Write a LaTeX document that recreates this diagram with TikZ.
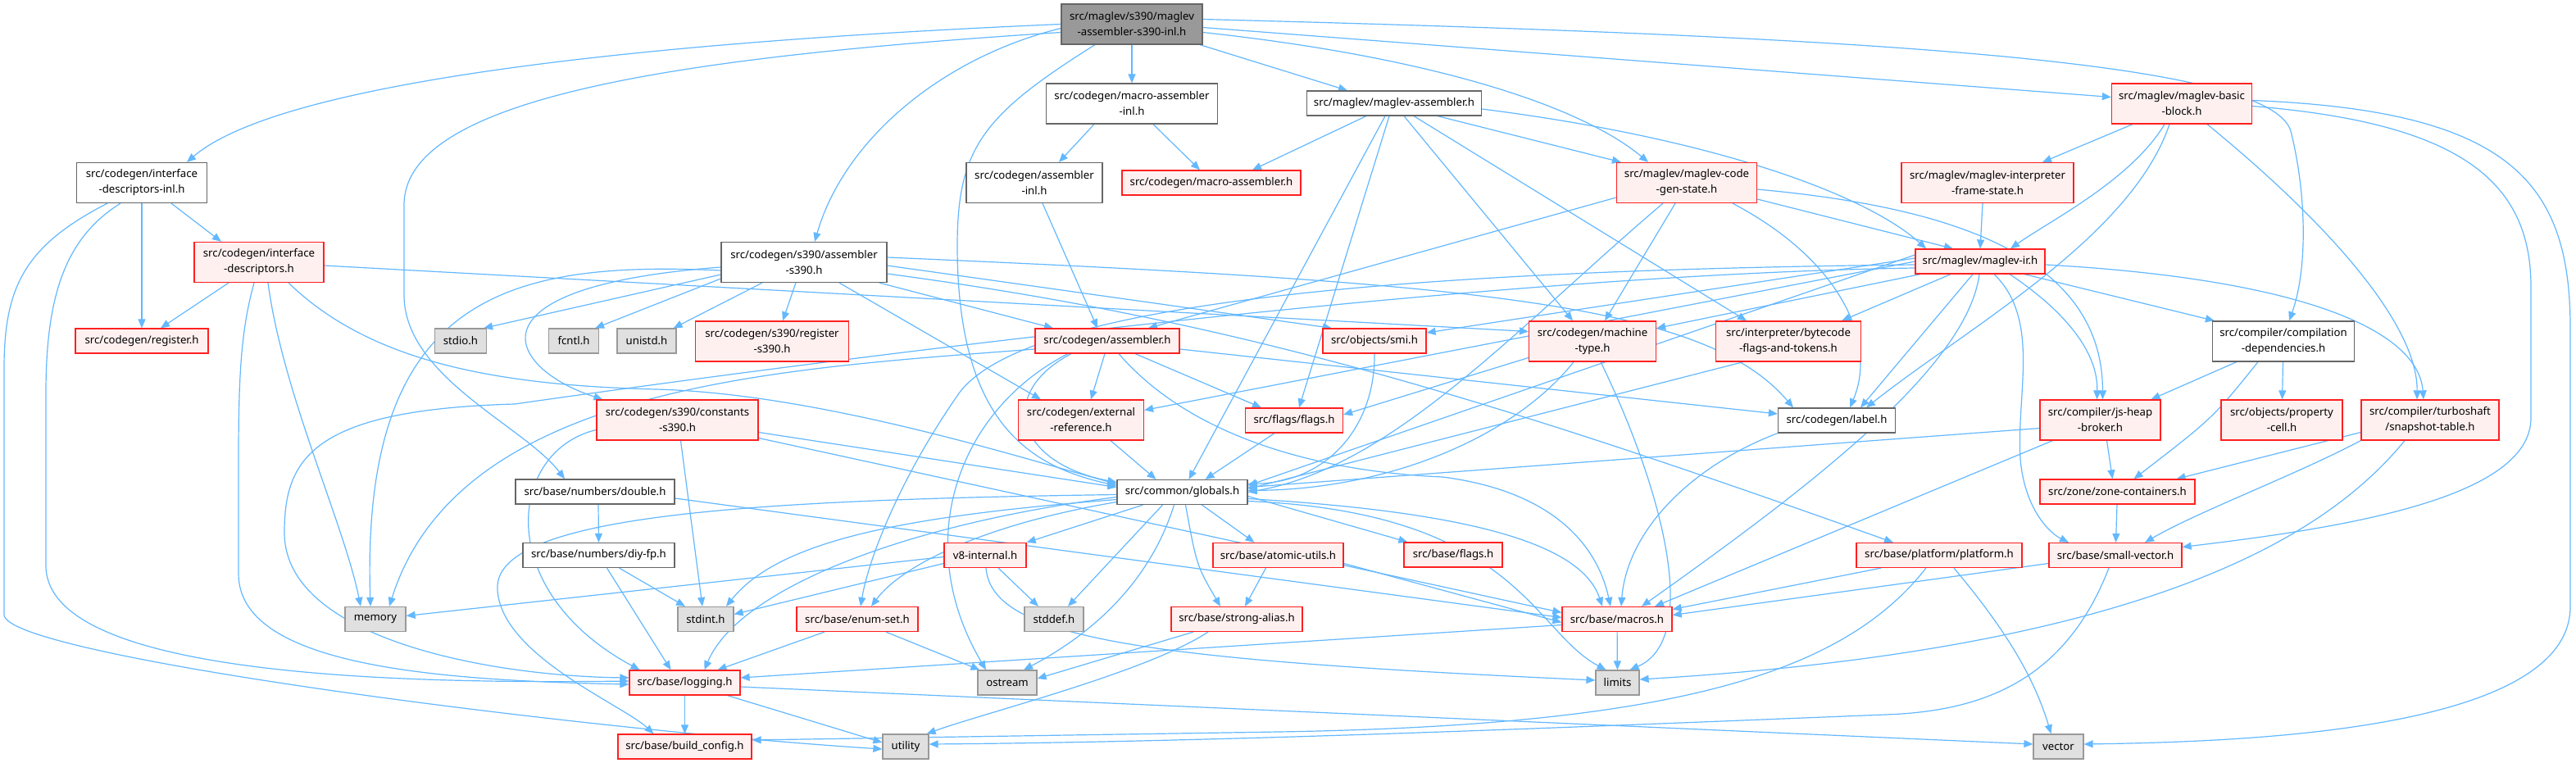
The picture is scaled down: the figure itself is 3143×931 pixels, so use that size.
\documentclass[tikz,border=0pt]{standalone}
\usepackage{fontspec}
\setmainfont{Noto Sans}
\usetikzlibrary{arrows.meta}
\definecolor{edgec}{HTML}{63B8FF}
\definecolor{redb}{HTML}{FF2020}
\definecolor{redf}{HTML}{FFF0F0}
\definecolor{grayf}{HTML}{E0E0E0}
\definecolor{grayb}{HTML}{999999}
\definecolor{darkb}{HTML}{666666}
\newcommand\nf{\fontsize{13.2pt}{19pt}\selectfont}
\pgfdeclarelayer{bg}
\pgfsetlayers{bg,main}
\tikzset{
  nb/.style={draw, line width=1.2pt, inner sep=0pt, align=center, font=\nf, minimum height=30pt, text=black},
  two/.style={minimum height=49pt},
  rbox/.style={nb, draw=redb, fill=redf},
  wbox/.style={nb, draw=darkb, fill=white},
  gbox/.style={nb, draw=grayb, fill=grayf},
  tbox/.style={nb, draw=darkb, fill=grayb},
  ed/.style={draw=edgec, line width=1.2pt, -{Triangle[length=11pt,width=9pt]}}
}
\begin{document}
\begin{tikzpicture}[x=1pt,y=-1pt]
\useasboundingbox (0,0) rectangle (3143,931);
\begin{pgfonlayer}{bg}
\fill[white] (0,0) rectangle (3143,931);
\end{pgfonlayer}
% nodes
\node[tbox,two,minimum width=172pt] (T) at (1381,29.5) {src/maglev/s390/maglev\\-assembler-s390-inl.h};
\node[wbox,two,minimum width=209pt] (mainl) at (1381,126.5) {src/codegen/macro-assembler\\-inl.h};
\node[wbox,minimum width=213pt] (mgasm) at (1701,126) {src/maglev/maglev-assembler.h};
\node[rbox,two,minimum width=171pt] (bb) at (2662,126.5) {src/maglev/maglev-basic\\-block.h};
\node[wbox,two,minimum width=159pt] (ifdinl) at (173,223) {src/codegen/interface\\-descriptors-inl.h};
\node[wbox,two,minimum width=166pt] (asminl) at (1262,223) {src/codegen/assembler\\-inl.h};
\node[rbox,minimum width=218pt] (masm) at (1478,223) {src/codegen/macro-assembler.h};
\node[rbox,two,minimum width=171pt] (cgs) at (2058,223) {src/maglev/maglev-code\\-gen-state.h};
\node[rbox,two,minimum width=210pt] (frame) at (2425,223) {src/maglev/maglev-interpreter\\-frame-state.h};
\node[rbox,two,minimum width=158pt] (ifd) at (316,320) {src/codegen/interface\\-descriptors.h};
\node[wbox,two,minimum width=202pt] (s390asm) at (981,320) {src/codegen/s390/assembler\\-s390.h};
\node[rbox,minimum width=158pt] (mir) at (2416,319) {src/maglev/maglev-ir.h};
\node[rbox,minimum width=162pt] (reg) at (173,416) {src/codegen/register.h};
\node[gbox,minimum width=63pt] (stdio) at (562,416) {stdio.h};
\node[gbox,minimum width=61pt] (fcntl) at (700,416) {fcntl.h};
\node[gbox,minimum width=72pt] (unistd) at (789,416) {unistd.h};
\node[rbox,two,minimum width=187pt] (reg390) at (942,416.5) {src/codegen/s390/register\\-s390.h};
\node[rbox,minimum width=176pt] (asm) at (1351,416) {src/codegen/assembler.h};
\node[rbox,minimum width=126pt] (smi) at (1677,416) {src/objects/smi.h};
\node[rbox,two,minimum width=155pt] (mtype) at (1943,416.5) {src/codegen/machine\\-type.h};
\node[rbox,two,minimum width=177pt] (bytecode) at (2182,416.5) {src/interpreter/bytecode\\-flags-and-tokens.h};
\node[wbox,two,minimum width=173pt] (cdep) at (2786,416.5) {src/compiler/compilation\\-dependencies.h};
\node[rbox,two,minimum width=197pt] (cst) at (826.5,512.5) {src/codegen/s390/constants\\-s390.h};
\node[rbox,two,minimum width=153pt] (extref) at (1319,512.5) {src/codegen/external\\-reference.h};
\node[rbox,minimum width=119pt] (flags) at (1579,513) {src/flags/flags.h};
\node[wbox,minimum width=143pt] (label) at (2241,513) {src/codegen/label.h};
\node[rbox,two,minimum width=147pt] (jsheap) at (2562.5,512.5) {src/compiler/js-heap\\-broker.h};
\node[rbox,two,minimum width=148pt] (propcell) at (2784,512.5) {src/objects/property\\-cell.h};
\node[rbox,two,minimum width=168pt] (snap) at (2965,512.5) {src/compiler/turboshaft\\/snapshot-table.h};
\node[wbox,minimum width=194pt] (dbl) at (726,600) {src/base/numbers/double.h};
\node[wbox,minimum width=159pt] (glob) at (1442.5,600.5) {src/common/globals.h};
\node[rbox,minimum width=189pt] (zone) at (2583.5,600) {src/zone/zone-containers.h};
\node[wbox,minimum width=185pt] (diyfp) at (730.5,677.5) {src/base/numbers/diy-fp.h};
\node[rbox,minimum width=100pt] (v8int) at (1202,677.5) {v8-internal.h};
\node[rbox,minimum width=159pt] (atomic) at (1559.5,677.5) {src/base/atomic-utils.h};
\node[rbox,minimum width=120pt] (bflags) at (1773,677) {src/base/flags.h};
\node[rbox,minimum width=202pt] (platform) at (2366,677.5) {src/base/platform/platform.h};
\node[rbox,minimum width=162pt] (svec) at (2581,677.5) {src/base/small-vector.h};
\node[gbox,minimum width=74pt] (mem) at (458,755.5) {memory};
\node[gbox,minimum width=68pt] (stdint) at (861,755.5) {stdint.h};
\node[rbox,minimum width=148pt] (enumset) at (1046,755.5) {src/base/enum-set.h};
\node[gbox,minimum width=72pt] (stddef) at (1286,755.5) {stddef.h};
\node[rbox,minimum width=160pt] (strong) at (1509,755.5) {src/base/strong-alias.h};
\node[rbox,minimum width=134pt] (macros) at (1973,755.5) {src/base/macros.h};
\node[rbox,minimum width=135pt] (log) at (835.5,833) {src/base/logging.h};
\node[gbox,minimum width=72pt] (ostream) at (1229,833) {ostream};
\node[gbox,minimum width=53pt] (limits) at (1973.5,833) {limits};
\node[rbox,minimum width=163pt] (build) at (835.5,911) {src/base/build\_config.h};
\node[gbox,minimum width=56pt] (util) at (1105,911) {utility};
\node[gbox,minimum width=61pt] (vector) at (2511.5,911) {vector};
% edges
\begin{pgfonlayer}{bg}
% top
\draw[ed] (T.west) .. controls (700,55) and (330,110) .. ([xshift=55pt]ifdinl.north);
\draw[ed] ([yshift=-10pt]T.west) .. controls (820,70) and (493,120) .. (493,250) -- (493,360) .. controls (493,460) and (640,520) .. ([xshift=-37pt]dbl.north);
\draw[ed] ([yshift=-5pt]T.west) .. controls (1150,70) and (1030,170) .. ([xshift=13pt]s390asm.north);
\draw[ed] ([xshift=-45pt]T.south) .. controls (1200,140) and (1168,180) .. (1168,300) .. controls (1168,520) and (1260,570) .. ([yshift=8pt]glob.west);
\draw[ed] (T) -- (mainl);
\draw[ed] ([xshift=83pt]T.south) -- ([xshift=-57pt]mgasm.north);
\draw[ed] ([yshift=-10pt]T.east) .. controls (1750,70) and (1930,130) .. ([xshift=-47pt]cgs.north);
\draw[ed] ([yshift=-4pt]T.east) -- ([yshift=8pt]bb.west);
\draw[ed] ([yshift=6pt]T.east) .. controls (2300,45) and (2770,75) .. (2795,160) .. controls (2815,240) and (2815,330) .. ([xshift=7pt]cdep.north);
% ifdinl
\draw[ed] ([xshift=36pt]ifdinl.south) -- ([xshift=-46pt]ifd.north);
\draw[ed] (ifdinl) -- (reg);
\draw[ed] ([xshift=-26pt]ifdinl.south) .. controls (80,290) and (56,360) .. (56,480) -- (56,690) .. controls (56,820) and (450,835) .. ([yshift=2pt]log.west);
\draw[ed] ([xshift=-42pt]ifdinl.south) .. controls (30,300) and (5,350) .. (5,450) -- (5,750) .. controls (5,800) and (700,890) .. ([yshift=-3pt]util.west);
% ifd
\draw[ed] ([xshift=-37pt]ifd.south) -- ([xshift=23pt]reg.north);
\draw[ed] ([xshift=11pt]ifd.south) .. controls (345,480) and (420,640) .. ([xshift=-18pt]mem.north);
\draw[ed] ([xshift=-6pt]ifd.south) .. controls (295,400) and (291,450) .. (291,560) -- (291,700) .. controls (291,810) and (520,830) .. ([yshift=-2pt]log.west);
\draw[ed] ([xshift=36pt]ifd.south) .. controls (450,440) and (600,470) .. (800,475) .. controls (1000,480) and (1250,560) .. ([yshift=10pt]glob.west);
\draw[ed] ([yshift=-4pt]ifd.east) -- ([yshift=12pt]mtype.west);
% macro-assembler-inl, assembler-inl
\draw[ed] ([xshift=-46pt]mainl.south) -- ([xshift=30pt]asminl.north);
\draw[ed] ([xshift=26pt]mainl.south) -- ([xshift=-14pt]masm.north);
\draw[ed] ([xshift=10pt]asminl.south) -- ([xshift=-12pt]asm.north);
% s390 assembler
\draw[ed] ([yshift=-15pt]s390asm.west) -- ([xshift=-4pt]stdio.north east);
\draw[ed] ([yshift=-20pt]s390asm.west) -- ([xshift=-5pt]fcntl.north east);
\draw[ed] ([xshift=-51pt]s390asm.south) -- ([xshift=-4pt]unistd.north east);
\draw[ed] ([xshift=-10pt]s390asm.south) -- ([xshift=13pt]reg390.north);
\draw[ed] ([yshift=-10pt]s390asm.west) .. controls (620,318) and (440,360) .. ([xshift=-6pt]mem.north);
\draw[ed] ([yshift=-6pt]s390asm.west) .. controls (560,350) and (620,450) .. ([xshift=8pt]cst.north west);
\draw[ed] ([xshift=92pt]s390asm.south) -- ([xshift=-66pt]asm.north);
\draw[ed] ([xshift=43pt]s390asm.south) -- ([xshift=-49pt]extref.north);
\draw[ed] ([yshift=6pt]s390asm.east) .. controls (1800,345) and (2080,370) .. ([xshift=-53pt]label.north);
\draw[ed] ([yshift=-4pt]s390asm.east) -- ([xshift=-52pt]smi.north);
\draw[ed] ([yshift=-14pt]s390asm.east) .. controls (1500,390) and (1800,480) .. ([xshift=-56pt]platform.north);
% assembler
\draw[ed] ([xshift=-44pt]asm.south) .. controls (1215,480) and (1240,565) .. ([yshift=12pt]glob.west);
\draw[ed] ([xshift=-48pt]asm.south) .. controls (1170,500) and (1110,660) .. ([xshift=-26pt]ostream.north);
\draw[ed] ([xshift=-3pt]asm.south) -- ([xshift=12pt]extref.north);
\draw[ed] ([xshift=34pt]asm.south) -- ([xshift=-40pt]flags.north);
\draw[ed] ([yshift=-10pt]asm.east) -- ([yshift=8pt]label.west);
\draw[ed] ([xshift=14pt]asm.south) .. controls (1450,530) and (1600,575) .. (1760,582) .. controls (1900,600) and (1950,670) .. ([xshift=-8pt]macros.north);
\draw[ed] ([yshift=-10pt]asm.west) .. controls (950,450) and (560,470) .. ([xshift=17pt]mem.north);
% extref, flags, smi
\draw[ed] ([xshift=36pt]extref.south) -- ([xshift=-32pt]glob.north);
\draw[ed] ([xshift=-24pt]flags.south) -- ([xshift=28pt]glob.north);
\draw[ed] (smi.south) .. controls (1678,520) and (1620,588) .. ([yshift=10pt]glob.east);
% maglev-assembler
\draw[ed] ([xshift=-11pt]mgasm.south) -- ([xshift=8pt]glob.north);
\draw[ed] ([xshift=-6pt]mgasm.south) -- ([xshift=6pt]flags.north);
\draw[ed] ([xshift=-34pt]mgasm.south) -- ([xshift=50pt]masm.north);
\draw[ed] ([xshift=12pt]mgasm.south) -- ([xshift=-24pt]mtype.north);
\draw[ed] ([xshift=24pt]mgasm.south) -- ([xshift=-51pt]bytecode.north);
\draw[ed] ([xshift=53pt]mgasm.south) -- ([xshift=6pt]cgs.north west);
\draw[ed] ([yshift=-7pt]mgasm.east) .. controls (2100,170) and (2280,240) .. ([xshift=-66pt]mir.north);
% code-gen-state
\draw[ed] ([yshift=-18pt]cgs.west) -- ([xshift=50pt]asm.north);
\draw[ed] ([xshift=-29pt]cgs.south) .. controls (1850,400) and (1700,570) .. ([yshift=0pt]glob.east);
\draw[ed] ([xshift=-14pt]cgs.south) -- ([xshift=15pt]mtype.north);
\draw[ed] ([xshift=56pt]cgs.south) .. controls (2250,320) and (2290,420) .. ([xshift=16pt]label.north);
\draw[ed] ([yshift=-8pt]cgs.east) .. controls (2350,250) and (2565,300) .. ([xshift=3pt]jsheap.north);
\draw[ed] ([yshift=-20pt]cgs.east) -- ([xshift=-33pt]mir.north);
% basic block
\draw[ed] ([xshift=-60pt]bb.south) -- ([xshift=67pt]frame.north);
\draw[ed] ([xshift=-21pt]bb.south) .. controls (2600,220) and (2500,270) .. ([xshift=37pt]mir.north);
\draw[ed] ([xshift=-15pt]bb.south) .. controls (2600,290) and (2400,400) .. ([xshift=36pt]label.north);
\draw[ed] ([xshift=31pt]bb.south) .. controls (2850,280) and (2950,400) .. ([xshift=-16pt]snap.north);
\draw[ed] ([yshift=-3pt]bb.east) .. controls (3000,150) and (3088,220) .. (3088,350) -- (3088,510) .. controls (3088,610) and (2850,645) .. ([yshift=10pt]svec.east);
\draw[ed] ([yshift=4pt]bb.east) .. controls (3060,135) and (3136,220) .. (3136,400) -- (3136,740) .. controls (3136,890) and (2750,905) .. ([yshift=3pt]vector.east);
\draw[ed] ([xshift=-6pt]frame.south) -- (mir.north);
% maglev-ir
\draw[ed] ([xshift=-73pt]mir.south) -- ([yshift=16pt]mtype.east);
\draw[ed] ([xshift=-36pt]mir.south) -- ([xshift=65pt]bytecode.north);
\draw[ed] ([xshift=-9pt]mir.south) -- ([xshift=29pt]label.north);
\draw[ed] ([xshift=36pt]mir.south) .. controls (2520,380) and (2560,430) .. ([xshift=-4pt]jsheap.north);
\draw[ed] ([xshift=54pt]mir.south) -- ([xshift=3pt]cdep.north west);
\draw[ed] ([yshift=-4pt]mir.east) .. controls (2800,340) and (2950,400) .. ([xshift=-8pt]snap.north);
\draw[ed] ([xshift=17pt]mir.south) .. controls (2490,390) and (2460,480) .. (2465,560) .. controls (2470,620) and (2500,650) .. ([xshift=-57pt]svec.north);
\draw[ed] ([xshift=-1pt]mir.south) .. controls (2400,450) and (2200,600) .. ([xshift=30pt]macros.north);
\draw[ed] ([yshift=8pt]mir.west) -- ([yshift=8pt]glob.east);
\draw[ed] ([yshift=4pt]mir.west) -- ([yshift=10pt]smi.east);
\draw[ed] (mir.west) -- ([yshift=12pt]extref.east);
\draw[ed] ([yshift=-4pt]mir.west) .. controls (1700,330) and (1250,370) .. (1170,480) .. controls (1100,580) and (1060,680) .. ([xshift=4pt]enumset.north);
\draw[ed] ([yshift=-8pt]mir.west) .. controls (1800,335) and (1000,440) .. (628,493) .. controls (380,500) and (347,560) .. (347,650) .. controls (347,780) and (600,825) .. ([yshift=6pt]log.west);
% js-heap-broker
\draw[ed] ([xshift=8pt]jsheap.south) -- ([xshift=-6pt]zone.north);
\draw[ed] ([xshift=-58pt]jsheap.south) -- ([xshift=46pt]macros.north);
\draw[ed] ([yshift=-10pt]jsheap.west) -- ([yshift=6pt]glob.east);
% compilation-dependencies
\draw[ed] ([xshift=-57pt]cdep.south) -- ([xshift=62pt]jsheap.north);
\draw[ed] ([xshift=-31pt]cdep.south) .. controls (2700,510) .. ([xshift=20pt]zone.north);
\draw[ed] (cdep) -- (propcell);
% snapshot table
\draw[ed] ([yshift=-15pt]snap.west) -- ([xshift=72pt]zone.north);
\draw[ed] (snap.south west) .. controls (2800,580) and (2680,625) .. ([xshift=36pt]svec.north);
\draw[ed] ([xshift=-31pt]snap.south) .. controls (2850,640) and (2650,790) .. ([yshift=4pt]limits.east);
\draw[ed] (zone) -- (svec);
% small-vector, platform
\draw[ed] ([yshift=-10pt]svec.west) -- ([yshift=5pt]macros.east);
\draw[ed] ([xshift=-8pt]svec.south) .. controls (2520,830) and (2420,868) .. (2300,872) .. controls (1900,888) and (1500,905) .. ([yshift=3pt]util.east);
\draw[ed] ([xshift=-71pt]platform.south) -- ([yshift=12pt]macros.east);
\draw[ed] ([xshift=-16pt]platform.south) .. controls (2250,820) and (2050,885) .. (1560,893) -- ([yshift=8pt]build.east);
\draw[ed] ([xshift=18pt]platform.south) .. controls (2440,760) and (2480,820) .. ([xshift=-9pt]vector.north);
% label, bytecode, machine-type
\draw[ed] (label.south west) .. controls (2060,570) and (1985,650) .. ([xshift=5pt]macros.north);
\draw[ed] ([xshift=-55pt]bytecode.south) -- ([yshift=4pt]glob.east);
\draw[ed] ([xshift=-23pt]mtype.south) .. controls (1850,530) and (1700,597) .. ([yshift=2pt]glob.east);
\draw[ed] ([yshift=-20pt]mtype.west) -- ([yshift=7pt]flags.east);
\draw[ed] ([xshift=10pt]mtype.south) .. controls (2030,600) and (2075,780) .. ([xshift=15pt]limits.north);
% constants
\draw[ed] ([xshift=4pt]cst.south) -- ([xshift=-4pt]stdint.north);
\draw[ed] ([yshift=-12pt]cst.west) .. controls (620,550) and (600,720) .. ([xshift=-55pt]log.north);
\draw[ed] ([yshift=-15pt]cst.east) -- ([yshift=6pt]glob.west);
\draw[ed] ([yshift=-22pt]cst.east) -- ([yshift=8pt]macros.west);
% double, diy-fp
\draw[ed] ([xshift=4pt]dbl.south) -- (diyfp.north);
\draw[ed] ([yshift=-8pt]dbl.east) -- ([yshift=2pt]macros.west);
\draw[ed] ([xshift=25pt]diyfp.south) -- ([xshift=-25pt]stdint.north);
\draw[ed] ([xshift=10pt]diyfp.south) -- ([xshift=-17pt]log.north);
% globals
\draw[ed] ([yshift=-3pt]glob.west) .. controls (900,610) and (600,630) .. (607,720) .. controls (612,800) and (760,860) .. ([xshift=-38pt]build.north);
\draw[ed] ([yshift=-6pt]glob.west) .. controls (1100,640) and (900,720) .. ([xshift=24pt]log.north);
\draw[ed] ([yshift=-9pt]glob.west) .. controls (1100,630) and (950,660) .. ([xshift=25pt]stdint.north);
\draw[ed] ([yshift=-12pt]glob.west) .. controls (1200,640) and (1100,690) .. ([xshift=17pt]enumset.north);
\draw[ed] ([xshift=-48pt]glob.south) -- (v8int.north east);
\draw[ed] ([xshift=-10pt]glob.south) .. controls (1400,720) and (1320,780) .. ([xshift=20pt]ostream.north);
\draw[ed] ([xshift=-24pt]glob.south) -- ([xshift=17pt]stddef.north);
\draw[ed] ([xshift=4pt]glob.south) .. controls (1460,690) .. ([xshift=-20pt]strong.north);
\draw[ed] ([xshift=24pt]glob.south) -- ([xshift=-29pt]atomic.north);
\draw[ed] ([yshift=-5pt]glob.east) -- ([xshift=5pt]bflags.north west);
\draw[ed] ([yshift=-8pt]glob.east) .. controls (1800,625) and (1930,665) .. ([xshift=-18pt]macros.north);
\draw[ed] ([yshift=-11pt]glob.east) .. controls (1850,625) and (1870,770) .. ([xshift=-14pt]limits.north);
% v8-internal
\draw[ed] ([yshift=-2pt]v8int.west) -- ([yshift=4pt]mem.east);
\draw[ed] ([yshift=-10pt]v8int.west) -- ([yshift=6pt]stdint.east);
\draw[ed] ([xshift=16pt]v8int.south) -- ([xshift=-19pt]stddef.north);
\draw[ed] ([xshift=1pt]v8int.south) .. controls (1210,780) and (1400,805) .. ([yshift=3pt]limits.west);
% enum-set, atomic, strong-alias
\draw[ed] ([xshift=-40pt]enumset.south) -- ([xshift=40pt]log.north);
\draw[ed] ([xshift=35pt]enumset.south) -- ([xshift=3pt]ostream.north west);
\draw[ed] ([xshift=-15pt]atomic.south) -- ([xshift=10pt]strong.north);
\draw[ed] ([yshift=-10pt]atomic.east) -- ([yshift=-4pt]macros.west);
\draw[ed] ([xshift=-53pt]strong.south) -- ([yshift=5pt]ostream.east);
\draw[ed] ([xshift=-35pt]strong.south) .. controls (1400,820) and (1200,870) .. ([xshift=-3pt]util.north east);
% macros, logging
\draw[ed] (macros) -- (limits);
\draw[ed] ([yshift=-7pt]macros.west) -- ([yshift=6pt]log.east);
\draw[ed] (log) -- (build);
\draw[ed] ([xshift=52pt]log.south) -- ([yshift=5pt]util.west);
\draw[ed] ([yshift=-5pt]log.east) -- ([yshift=3pt]vector.west);
\end{pgfonlayer}
\end{tikzpicture}
\end{document}
